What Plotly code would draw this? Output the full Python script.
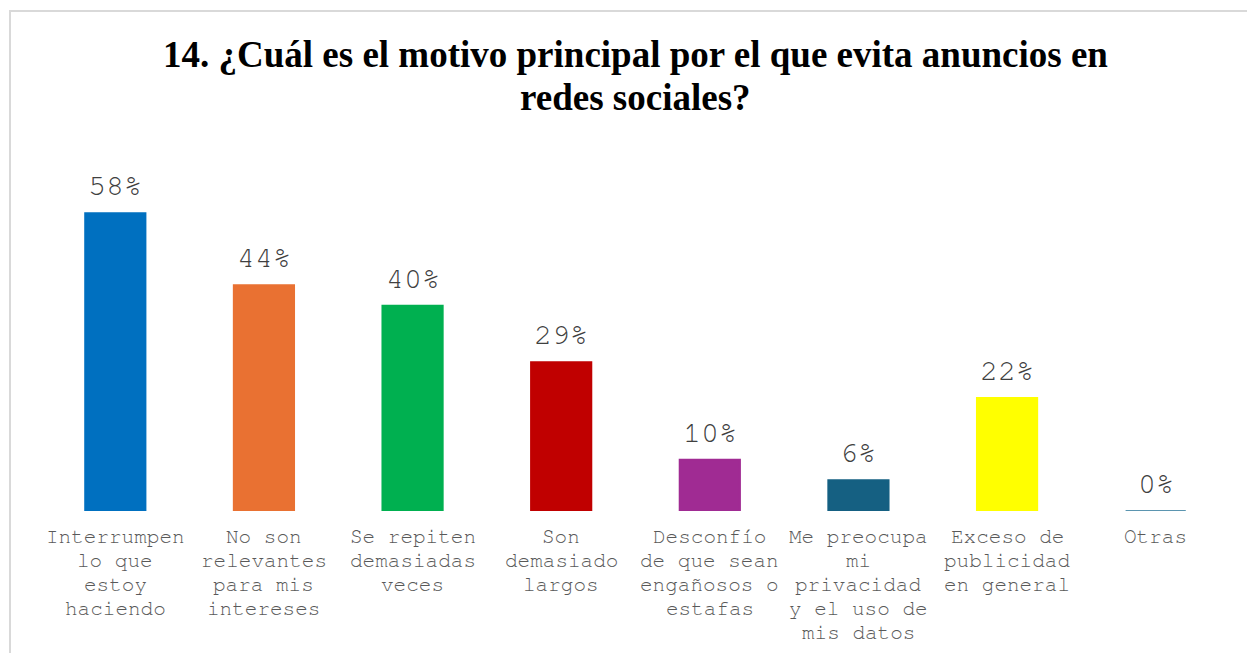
import plotly.graph_objects as go

# Survey answers: main reason for avoiding ads on social networks
categories = [
    ["Interrumpen", "lo que", "estoy", "haciendo"],
    ["No son", "relevantes", "para mis", "intereses"],
    ["Se repiten", "demasiadas", "veces"],
    ["Son", "demasiado", "largos"],
    ["Desconfío", "de que sean", "engañosos o", "estafas"],
    ["Me preocupa", "mi", "privacidad", "y el uso de", "mis datos"],
    ["Exceso de", "publicidad", "en general"],
    ["Otras"],
]
percentages = [58, 44, 40, 29, 10, 6, 22, 0]
bar_colors = ["#0070C0", "#E97132", "#00B050", "#C00000",
              "#A02B93", "#156082", "#FFFF00", "#5B95B0"]
title_lines = ["14. ¿Cuál es el motivo principal por el que evita anuncios en",
               "redes sociales?"]

W, H = 1247, 653
L, R, T, B = 41, 17, 203, 142
plot_w = W - L - R
plot_h = H - T - B

x_pos = list(range(len(categories)))
mono = "FreeMono, Courier New, monospace"

fig = go.Figure(
    go.Bar(
        x=x_pos,
        y=percentages,
        marker=dict(color=bar_colors, line=dict(color=bar_colors, width=2)),
        width=0.405,
        cliponaxis=False,
        hoverinfo="skip",
    )
)

# value labels above each bar
for xi, v in zip(x_pos, percentages):
    fig.add_annotation(
        x=xi, y=v, text=f"{v}%",
        showarrow=False, xanchor="center", yanchor="middle", yshift=27,
        font=dict(family=mono, size=30, color="#404040"),
    )

# category labels under the bars, one line at a time for tight spacing
for xi, lines in zip(x_pos, categories):
    for k, line in enumerate(lines):
        fig.add_annotation(
            x=xi, y=0, text=line,
            showarrow=False, xanchor="center", yanchor="middle",
            yshift=-(25 + 24 * k),
            font=dict(family=mono, size=21, color="#595959"),
        )

# chart title, two centred lines
for k, line in enumerate(title_lines):
    fig.add_annotation(
        xref="paper", yref="paper",
        x=(635 - L) / plot_w, y=(H - B - (55 + 42 * k)) / plot_h,
        text=f"<b>{line}</b>", showarrow=False,
        xanchor="center", yanchor="middle",
        font=dict(family="Liberation Serif", size=37, color="black"),
    )

fig.update_layout(
    width=W,
    height=H,
    margin=dict(l=L, r=R, t=T, b=B),
    paper_bgcolor="white",
    plot_bgcolor="white",
    showlegend=False,
    xaxis=dict(
        range=[-0.5, len(categories) - 0.5],
        showgrid=False,
        zeroline=False,
        showline=False,
        showticklabels=False,
        ticks="",
        automargin=False,
    ),
    yaxis=dict(range=[0, 60], visible=False, automargin=False),
    shapes=[
        dict(
            type="rect",
            xref="paper", yref="paper",
            x0=(10 - L) / plot_w, x1=(W + 20 - L) / plot_w,
            y0=(H - B - (H + 20)) / plot_h, y1=(H - B - 11) / plot_h,
            line=dict(color="#D9D9D9", width=2),
            fillcolor="rgba(0,0,0,0)",
            layer="below",
        )
    ],
)

fig.write_html("out.html")
